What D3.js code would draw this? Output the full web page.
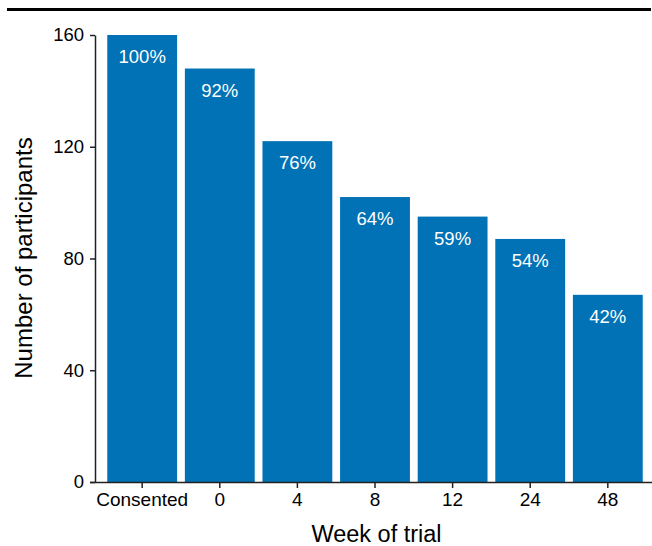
<!DOCTYPE html>
<html>
<head>
<meta charset="utf-8">
<script src="https://cdn.jsdelivr.net/npm/d3@7"></script>
<style>
  html, body { margin: 0; padding: 0; background: #fff; }
  svg { display: block; font-family: "Liberation Sans", Arial, Helvetica, sans-serif; }
</style>
</head>
<body>
<svg id="chart" width="652" height="546"></svg>
<script>
const categories = ["Consented", "0", "4", "8", "12", "24", "48"];
const participants = [160, 148, 122, 102, 95, 87, 67];
const percentLabels = ["100%", "92%", "76%", "64%", "59%", "54%", "42%"];
const yTicks = [0, 40, 80, 120, 160];

const svg = d3.select("#chart");
const axisColor = "#222";
const barColor = "#0072B5";

// top rule
svg.append("line")
  .attr("x1", 7).attr("x2", 651)
  .attr("y1", 9.5).attr("y2", 9.5)
  .attr("stroke", "#000").attr("stroke-width", 3);

const x = d3.scaleBand().domain(categories).range([99.5, 650.5])
  .paddingInner(0.1).paddingOuter(0.1);
const y = d3.scaleLinear().domain([0, 160]).range([482, 35]);

// bars
svg.append("g").selectAll("rect")
  .data(categories)
  .join("rect")
  .attr("x", d => x(d))
  .attr("width", x.bandwidth())
  .attr("y", (d, i) => y(participants[i]))
  .attr("height", (d, i) => y(0) - y(participants[i]))
  .attr("fill", barColor);

// bar labels
svg.append("g").selectAll("text")
  .data(categories)
  .join("text")
  .attr("x", d => x(d) + x.bandwidth() / 2)
  .attr("y", (d, i) => y(participants[i]) + 28)
  .attr("text-anchor", "middle")
  .attr("fill", "#fff")
  .attr("font-size", 18.5)
  .text((d, i) => percentLabels[i]);

// y axis
const yAxis = svg.append("g")
  .attr("transform", "translate(95,0)")
  .call(d3.axisLeft(y).tickValues(yTicks).tickSize(5).tickSizeOuter(0).tickPadding(6));
yAxis.select(".domain").attr("stroke", axisColor).attr("stroke-width", 1.5);
yAxis.selectAll(".tick line").attr("stroke", axisColor).attr("stroke-width", 1.5);
yAxis.selectAll(".tick text").attr("font-size", 18.5).attr("fill", "#000")
  .attr("font-family", "Liberation Sans, Arial, sans-serif");

// x axis
const xAxis = svg.append("g")
  .attr("transform", "translate(0,482)")
  .call(d3.axisBottom(x).tickSize(6).tickSizeOuter(0).tickPadding(5));
xAxis.select(".domain").attr("d", "M90,0.5H652").attr("stroke", axisColor).attr("stroke-width", 1.5);
xAxis.selectAll(".tick line").attr("stroke", axisColor).attr("stroke-width", 1.5);
xAxis.selectAll(".tick text").attr("font-size", 19).attr("fill", "#000")
  .attr("font-family", "Liberation Sans, Arial, sans-serif");

// axis titles
svg.append("text")
  .attr("x", 376.5).attr("y", 542)
  .attr("text-anchor", "middle")
  .attr("font-size", 23.5)
  .attr("fill", "#000")
  .text("Week of trial");

svg.append("text")
  .attr("transform", "translate(32,258) rotate(-90)")
  .attr("text-anchor", "middle")
  .attr("font-size", 24)
  .attr("fill", "#000")
  .text("Number of participants");
</script>
</body>
</html>
